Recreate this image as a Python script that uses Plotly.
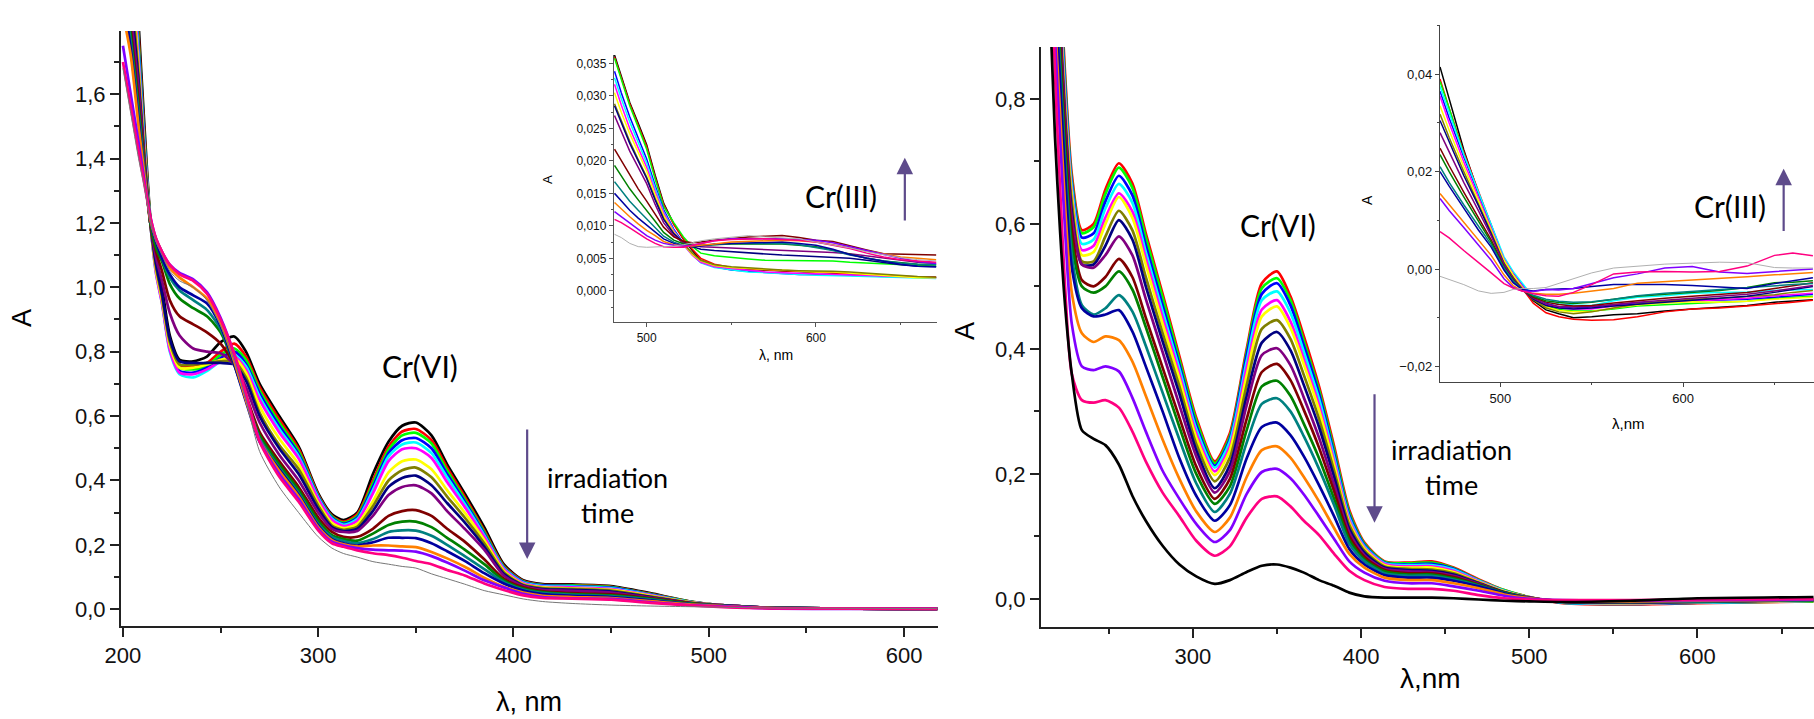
import plotly.graph_objects as go

W, H = 1814, 719
names = ["black", "red", "lime", "blue", "cyan", "magenta", "yellow", "olive", "navy", "purple",
         "wine", "green", "teal", "navy2", "orange", "violet", "pink", "gray"]
colors = {"black": "#000000", "red": "#ff0000", "lime": "#00ff00", "blue": "#0000ff", "cyan": "#00ffff",
          "magenta": "#ff00ff", "yellow": "#ffff00", "olive": "#808000", "navy": "#000080", "purple": "#800080",
          "wine": "#800000", "green": "#008000", "teal": "#008080", "navy2": "#0000a0", "orange": "#ff8000",
          "violet": "#8000ff", "pink": "#ff0080", "gray": "#909090"}
ARROW = "#5e4b8b"

# ---- left main panel
a_wl = [200,204,208,211,214,217,220,224,229,236,243,250,257,263,270,280,290,300,307,313,320,328,336,343,350,358,366,375,385,395,405,415,430,450,470,490,510,530,617]
a_black = [2.6,2.3,1.82,1.5,1.22,1.09,1.0,.85,.775,.77,.785,.83,.847,.80,.70,.60,.505,.36,.295,.277,.30,.42,.52,.57,.58,.54,.45,.36,.255,.14,.09,.078,.077,.072,.05,.025,.011,.005,.001]
a_red = [2.5,2.2,1.78,1.47,1.21,1.07,.97,.83,.76,.755,.765,.80,.825,.785,.69,.59,.498,.355,.29,.272,.295,.40,.505,.552,.56,.525,.44,.35,.245,.135,.088,.076,.075,.07,.048,.024,.011,.005,.001]
a_lime = [2.45,2.15,1.76,1.46,1.21,1.06,.96,.82,.75,.745,.755,.79,.81,.775,.68,.58,.49,.352,.288,.268,.29,.39,.495,.54,.548,.515,.43,.342,.24,.132,.086,.075,.074,.069,.047,.024,.011,.005,.001]
a_blue = [2.4,2.1,1.74,1.45,1.2,1.05,.955,.81,.74,.735,.75,.78,.80,.762,.67,.57,.482,.35,.285,.265,.285,.38,.485,.525,.532,.50,.42,.335,.235,.13,.085,.074,.072,.067,.046,.023,.011,.005,.001]
a_cyan = [2.38,2.08,1.72,1.44,1.2,1.04,.95,.80,.73,.72,.74,.77,.79,.755,.66,.56,.475,.346,.282,.262,.28,.37,.475,.512,.518,.485,.41,.328,.23,.128,.083,.072,.07,.065,.045,.023,.011,.005,.001]
a_magenta = [2.35,2.05,1.7,1.43,1.2,1.04,.95,.805,.735,.73,.745,.77,.785,.745,.65,.55,.468,.342,.278,.258,.275,.36,.46,.497,.50,.47,.395,.318,.225,.125,.081,.07,.068,.063,.044,.022,.011,.005,.001]
a_yellow = [2.3,2.0,1.68,1.42,1.2,1.05,.96,.82,.75,.75,.76,.775,.78,.735,.63,.53,.45,.33,.268,.252,.265,.335,.425,.46,.465,.435,.37,.30,.215,.12,.078,.068,.065,.06,.042,.022,.011,.005,.001]
a_olive = [2.25,1.95,1.66,1.41,1.2,1.06,.97,.83,.76,.76,.765,.77,.77,.72,.61,.51,.435,.322,.26,.247,.257,.32,.40,.432,.44,.41,.35,.285,.205,.115,.076,.066,.063,.058,.04,.021,.011,.005,.001]
a_navy = [2.2,1.9,1.64,1.4,1.2,1.07,.98,.84,.77,.765,.765,.765,.76,.71,.60,.50,.42,.312,.255,.243,.25,.305,.38,.408,.415,.385,.33,.27,.195,.11,.074,.063,.06,.055,.038,.02,.011,.005,.001]
a_purple = [2.1,1.85,1.62,1.39,1.2,1.09,1.02,.92,.85,.81,.80,.795,.76,.69,.58,.48,.40,.30,.25,.24,.243,.29,.355,.38,.385,.36,.305,.25,.185,.105,.072,.06,.057,.052,.036,.02,.011,.005,.001]
a_wine = [2.05,1.8,1.58,1.38,1.2,1.11,1.05,.96,.91,.885,.86,.825,.76,.665,.55,.46,.38,.285,.24,.225,.225,.25,.29,.305,.308,.29,.25,.21,.155,.095,.068,.056,.05,.046,.034,.019,.01,.005,.001]
a_green = [2.0,1.78,1.56,1.37,1.2,1.12,1.08,1.01,.965,.935,.91,.86,.76,.655,.54,.45,.37,.275,.23,.218,.213,.235,.262,.272,.272,.255,.222,.185,.14,.09,.064,.053,.047,.043,.032,.018,.01,.005,.001]
a_teal = [1.95,1.76,1.54,1.36,1.21,1.14,1.09,1.03,.99,.96,.93,.87,.76,.65,.53,.44,.36,.265,.225,.212,.205,.218,.24,.245,.244,.228,.2,.165,.125,.085,.061,.05,.045,.041,.03,.017,.01,.005,.001]
a_navy2 = [1.9,1.74,1.52,1.35,1.21,1.14,1.09,1.04,1.0,.975,.95,.88,.76,.645,.52,.435,.355,.26,.218,.205,.198,.208,.222,.222,.221,.205,.18,.15,.112,.08,.058,.047,.042,.038,.028,.016,.01,.005,.001]
a_orange = [1.85,1.72,1.5,1.35,1.21,1.15,1.11,1.06,1.03,1.0,.965,.89,.77,.65,.525,.43,.35,.255,.215,.202,.195,.198,.198,.195,.193,.178,.158,.132,.098,.07,.052,.042,.038,.035,.025,.015,.009,.004,.001]
a_violet = [1.75,1.6,1.45,1.33,1.22,1.15,1.11,1.07,1.045,1.025,.985,.905,.79,.66,.525,.42,.342,.25,.21,.198,.19,.185,.183,.182,.179,.165,.145,.12,.09,.068,.048,.038,.034,.032,.022,.013,.008,.003,.001]
a_pink = [1.7,1.56,1.42,1.32,1.22,1.15,1.11,1.07,1.04,1.02,.98,.90,.795,.67,.52,.412,.334,.245,.205,.194,.183,.174,.168,.16,.15,.14,.122,.105,.08,.06,.043,.035,.033,.03,.02,.012,.006,.003,.001]
a_gray = [1.68,1.54,1.4,1.31,1.21,1.14,1.1,1.05,1.02,1.0,.96,.88,.77,.65,.49,.38,.30,.225,.19,.173,.162,.148,.14,.133,.128,.11,.095,.078,.058,.045,.032,.024,.018,.013,.01,.008,.006,.004,.002]

# ---- left inset panel
b_wl = [481,485,490,495,500,505,510,516,522,527,532,540,550,560,570,580,590,600,610,620,630,640,650,660,671]
b_black = [.0363,.033,.029,.0258,.0225,.0178,.0135,.0103,.0078,.0062,.0047,.0039,.0035,.0033,.0032,.003,.0029,.0029,.0028,.0026,.0025,.0023,.0022,.0021,.0021]
b_red = [.0360,.0328,.0288,.0255,.0222,.0175,.0133,.0102,.0079,.0064,.005,.0041,.0036,.0034,.0032,.0031,.003,.0029,.0028,.0027,.0025,.0024,.0022,.0021,.0021]
b_lime = [.0358,.0325,.0285,.0252,.0218,.0172,.013,.0105,.0082,.0068,.0058,.0054,.0051,.0049,.0047,.0047,.0046,.0047,.0046,.0044,.0043,.0041,.004,.0039,.0038]
b_blue = [.0338,.0305,.0268,.0235,.0203,.0162,.0125,.0095,.0072,.0056,.0044,.0037,.0032,.003,.0028,.0027,.0025,.0025,.0025,.0024,.0023,.0022,.0021,.002,.002]
b_cyan = [.0328,.0296,.026,.0228,.0197,.0158,.0122,.0093,.007,.0055,.0043,.0036,.0032,.0029,.0028,.0026,.0025,.0024,.0024,.0023,.0022,.0021,.002,.002,.0019]
b_magenta = [.0318,.0286,.025,.022,.019,.0153,.012,.0092,.007,.0055,.0044,.0037,.0034,.0031,.0029,.0028,.0027,.0026,.0026,.0025,.0023,.0022,.0021,.0021,.002]
b_yellow = [.0305,.0275,.0242,.0213,.0184,.0148,.0116,.009,.0071,.0056,.0046,.0039,.0036,.0034,.0033,.0032,.003,.0029,.0029,.0027,.0025,.0023,.0021,.002,.002]
b_olive = [.0288,.0262,.023,.0202,.0175,.0142,.0112,.0088,.0072,.0058,.0047,.004,.0037,.0035,.0034,.0032,.0031,.0031,.003,.0029,.0027,.0025,.0023,.0022,.0021]
b_navy = [.0285,.0258,.0227,.02,.0173,.014,.011,.0088,.0074,.0068,.0064,.0062,.006,.0058,.0056,.0055,.0054,.0053,.0052,.005,.0047,.0043,.004,.0038,.0037]
b_purple = [.027,.0245,.0215,.019,.0165,.0133,.0105,.0085,.0073,.007,.0068,.0067,.0066,.0065,.0064,.0063,.0062,.006,.0059,.0057,.0054,.0051,.0047,.0044,.0042]
b_wine = [.0218,.02,.0178,.0157,.0138,.0118,.0098,.0083,.0076,.0074,.0075,.0078,.0081,.0083,.0084,.0085,.0082,.0078,.0076,.0069,.0063,.0057,.0056,.0056,.0055]
b_green = [.0193,.0177,.0157,.014,.0124,.0107,.009,.0078,.0072,.007,.007,.0071,.0072,.0072,.0072,.0072,.007,.0068,.0063,.0056,.005,.0046,.0043,.0041,.004]
b_teal = [.0168,.0155,.0138,.0124,.0111,.0097,.0084,.0075,.007,.0069,.007,.0071,.0073,.0073,.0073,.0073,.0071,.0067,.0062,.0055,.005,.0046,.0043,.0041,.004]
b_navy2 = [.015,.0138,.0124,.0112,.0101,.009,.008,.0073,.0069,.0068,.0069,.0072,.0073,.0074,.0075,.0075,.0073,.007,.0064,.0056,.005,.0045,.0041,.0038,.0037]
b_orange = [.0136,.0126,.0114,.0103,.0093,.0085,.0076,.0071,.0069,.0069,.007,.0072,.0075,.0076,.0078,.0078,.0077,.0075,.0071,.0066,.0061,.0056,.0052,.005,.0048]
b_violet = [.0122,.0114,.0104,.0095,.0085,.0078,.0073,.007,.0069,.007,.0073,.0077,.008,.008,.0081,.008,.0079,.0078,.0074,.0068,.0061,.0055,.005,.0045,.0042]
b_pink = [.011,.0105,.0097,.0088,.008,.0073,.0068,.0067,.0067,.007,.0073,.0077,.0079,.008,.008,.0079,.0078,.0075,.007,.0065,.0058,.0052,.0048,.0046,.0044]
b_gray = [.0087,.0082,.0073,.0068,.0067,.0067,.0068,.0069,.0071,.0074,.0077,.008,.0083,.0085,.0083,.0082,.008,.0075,.0071,.0066,.006,.0055,.0051,.0048,.0046]

# ---- right main panel
c_wl = [215,218,221,224,228,234,241,248,256,264,272,282,292,302,313,322,332,341,350,358,366,375,384,393,402,414,428,442,455,470,485,500,520,560,600,669]
c_red = [1.5,1.2,1.0,.84,.68,.59,.60,.655,.697,.665,.585,.488,.388,.29,.22,.265,.40,.505,.524,.484,.42,.34,.244,.142,.09,.06,.058,.06,.05,.031,.014,.003,-.007,-.009,-.007,-.004]
c_lime = [1.48,1.18,.98,.83,.67,.585,.595,.648,.69,.658,.578,.482,.382,.285,.217,.26,.395,.497,.513,.478,.412,.334,.238,.138,.088,.059,.057,.058,.049,.03,.014,.003,-.006,-.008,-.006,-.004]
c_blue = [1.46,1.16,.97,.82,.665,.578,.585,.636,.677,.646,.566,.47,.375,.278,.213,.256,.39,.488,.505,.47,.405,.328,.232,.134,.086,.058,.055,.056,.048,.029,.013,.002,-.006,-.008,-.006,-.003]
c_cyan = [1.44,1.14,.96,.81,.66,.568,.575,.625,.664,.634,.555,.46,.368,.272,.21,.252,.38,.478,.492,.458,.395,.32,.226,.13,.084,.057,.054,.054,.047,.029,.013,.002,-.006,-.007,-.006,-.003]
c_magenta = [1.42,1.12,.95,.80,.65,.558,.565,.61,.649,.62,.545,.45,.36,.265,.204,.244,.37,.463,.478,.444,.383,.31,.22,.126,.082,.056,.052,.052,.045,.028,.012,.002,-.005,-.007,-.005,-.003]
c_yellow = [1.4,1.1,.94,.79,.645,.55,.555,.60,.643,.61,.535,.44,.352,.258,.198,.238,.358,.452,.468,.434,.375,.302,.214,.122,.08,.054,.05,.05,.043,.027,.012,.002,-.005,-.007,-.005,-.003]
c_olive = [1.38,1.08,.93,.78,.635,.54,.54,.58,.621,.59,.515,.425,.34,.248,.188,.226,.342,.432,.446,.416,.358,.288,.205,.118,.077,.052,.048,.047,.041,.026,.011,.002,-.005,-.006,-.005,-.002]
c_navy = [1.36,1.06,.92,.77,.62,.535,.535,.565,.606,.575,.50,.412,.328,.238,.177,.214,.325,.41,.427,.398,.342,.275,.195,.112,.074,.05,.046,.045,.039,.025,.011,.002,-.005,-.006,-.005,-.002]
c_purple = [1.34,1.05,.91,.76,.61,.535,.53,.55,.58,.55,.48,.395,.31,.228,.17,.204,.31,.39,.401,.374,.322,.258,.183,.106,.07,.048,.044,.043,.037,.024,.01,.002,-.004,-.005,-.004,-.002]
c_wine = [1.3,1.03,.89,.74,.59,.51,.50,.515,.544,.515,.45,.37,.29,.212,.16,.192,.288,.363,.376,.35,.302,.242,.172,.1,.067,.046,.041,.041,.035,.023,.01,.001,-.004,-.005,-.004,-.002]
c_green = [1.28,1.01,.87,.72,.57,.5,.49,.50,.524,.495,.435,.355,.275,.2,.152,.18,.27,.34,.349,.325,.28,.225,.16,.094,.063,.044,.039,.039,.033,.022,.01,.001,-.004,-.005,-.004,-.002]
c_teal = [1.25,.99,.85,.70,.55,.47,.455,.465,.486,.46,.405,.33,.255,.185,.139,.168,.25,.312,.321,.3,.26,.208,.15,.088,.06,.041,.037,.037,.031,.021,.009,.001,-.003,-.005,-.004,-.002]
c_navy2 = [1.22,.97,.83,.68,.53,.465,.452,.455,.462,.428,.372,.30,.225,.165,.125,.15,.225,.275,.282,.262,.228,.182,.132,.08,.055,.038,.034,.034,.029,.02,.009,.001,-.003,-.004,-.003,-.001]
c_orange = [1.2,.93,.78,.63,.49,.425,.411,.42,.414,.38,.325,.255,.192,.14,.107,.13,.195,.238,.244,.226,.195,.156,.113,.072,.05,.034,.03,.03,.025,.017,.007,.001,-.003,-.004,-.003,-.001]
c_violet = [1.15,.9,.74,.59,.44,.372,.366,.372,.364,.322,.268,.205,.16,.12,.091,.11,.168,.203,.208,.193,.167,.132,.096,.06,.042,.029,.025,.025,.02,.013,.005,.0,-.002,-.003,-.002,-.001]
c_pink = [1.1,.84,.66,.5,.36,.318,.314,.318,.306,.268,.22,.17,.132,.093,.069,.084,.13,.16,.164,.148,.125,.102,.072,.045,.03,.019,.016,.016,.013,.006,.001,-.001,-.002,-.002,-.001,.0]
c_black = [.95,.74,.59,.47,.36,.27,.256,.246,.215,.165,.125,.085,.055,.036,.024,.03,.043,.053,.055,.05,.042,.03,.021,.01,.004,.002,.002,.002,.001,-.001,-.003,-.004,-.005,-.003,.001,.003]

# ---- right inset panel
d_wl = [467,472,480,488,495,502,507,512,518,525,532,540,550,562,575,590,605,620,635,650,660,671]
d_black = [.0415,.035,.0245,.0156,.0085,.0015,-.0015,-.004,-.0065,-.0084,-.0092,-.01,-.0098,-.0094,-.0092,-.0086,-.0082,-.0078,-.0075,-.0068,-.0066,-.0063]
d_red = [.039,.033,.024,.016,.009,.002,-.001,-.004,-.007,-.009,-.0098,-.0103,-.0105,-.0104,-.0098,-.0088,-.0082,-.008,-.0076,-.0072,-.0068,-.0064]
d_lime = [.0385,.033,.0235,.0155,.0085,.0015,-.0012,-.0035,-.006,-.0075,-.0083,-.0086,-.0086,-.0082,-.0076,-.0073,-.007,-.0068,-.0066,-.006,-.0058,-.0056]
d_blue = [.0365,.031,.023,.0155,.009,.002,-.0008,-.0032,-.0056,-.007,-.0078,-.008,-.0078,-.0074,-.007,-.0067,-.0065,-.0064,-.0062,-.0058,-.0055,-.0052]
d_cyan = [.0375,.032,.0235,.0158,.009,.0025,-.0005,-.003,-.0058,-.0068,-.0072,-.0074,-.0075,-.0065,-.0058,-.0055,-.005,-.0048,-.0047,-.0044,-.0043,-.0042]
d_magenta = [.0355,.03,.022,.0148,.0083,.002,-.001,-.0035,-.006,-.0073,-.008,-.0082,-.0082,-.0076,-.0072,-.0069,-.0066,-.0063,-.006,-.0055,-.0052,-.005]
d_yellow = [.0335,.0285,.021,.0142,.008,.0018,-.0012,-.0038,-.0062,-.0078,-.0085,-.0088,-.0087,-.008,-.0074,-.007,-.0067,-.0068,-.0066,-.0062,-.006,-.0058]
d_olive = [.0318,.027,.02,.0135,.0075,.0012,-.0018,-.004,-.0063,-.008,-.0088,-.0092,-.0088,-.008,-.0072,-.0066,-.0062,-.006,-.0057,-.0053,-.0048,-.0044]
d_navy = [.0305,.026,.0192,.013,.0072,.001,-.002,-.0042,-.0062,-.0075,-.008,-.0082,-.008,-.0076,-.0072,-.0068,-.0064,-.006,-.0056,-.0048,-.0042,-.0036]
d_purple = [.028,.024,.0178,.012,.0068,.001,-.002,-.0042,-.006,-.0072,-.0077,-.0078,-.0077,-.0073,-.0068,-.0064,-.006,-.0056,-.0052,-.0045,-.004,-.0034]
d_wine = [.0248,.0212,.0158,.0105,.006,.0005,-.0022,-.0042,-.0058,-.0068,-.0073,-.0076,-.0075,-.007,-.0065,-.006,-.0056,-.0052,-.0048,-.004,-.0034,-.0028]
d_green = [.0235,.02,.0148,.0098,.0055,.0003,-.0024,-.0043,-.0056,-.0065,-.0069,-.0071,-.0068,-.0062,-.0056,-.0052,-.0048,-.0044,-.0038,-.0028,-.0027,-.0024]
d_teal = [.021,.0178,.0132,.0088,.005,.0002,-.0024,-.0042,-.0054,-.0062,-.0066,-.0068,-.0067,-.0062,-.0055,-.005,-.0046,-.0042,-.0038,-.0034,-.0032,-.003]
d_navy2 = [.02,.017,.0125,.008,.0045,-.0002,-.0028,-.0042,-.0045,-.0042,-.0041,-.004,-.0036,-.0032,-.0032,-.0032,-.0034,-.0037,-.004,-.003,-.0025,-.0018]
d_orange = [.0155,.0132,.0095,.006,.0028,-.0012,-.0034,-.0045,-.005,-.0052,-.0052,-.005,-.0045,-.004,-.0029,-.0026,-.0023,-.0019,-.0016,-.0012,-.001,-.0007]
d_violet = [.0145,.012,.0085,.005,.0018,-.002,-.0038,-.0045,-.0046,-.0042,-.0043,-.004,-.003,-.0018,-.001,.0002,.0005,-.0006,-.0009,-.0005,-.0002,0.0]
d_pink = [.0077,.0064,.0038,.0014,-.0008,-.003,-.0039,-.0045,-.0051,-.0055,-.0056,-.0048,-.0032,-.001,-.0006,-.0005,-.0006,-.0005,.0006,.0028,.0033,.0027]
d_gray = [-.0015,-.0022,-.0032,-.0045,-.005,-.0048,-.0042,-.004,-.004,-.0038,-.003,-.002,-.0008,.0002,.0006,.001,.0012,.0014,.0013,.0003,.0002,.0002]

panels = [
    ("x", "y", a_wl, names, "a", 2.7, "spline"),
    ("x2", "y2", b_wl, names, "b", 1.5, "linear"),
    ("x3", "y3", c_wl, names[1:17] + ["black"], "c", 2.7, "spline"),
    ("x4", "y4", d_wl, ["black"] + names[1:], "d", 1.5, "linear"),
]

fig = go.Figure()
for xa, ya, wl, order, prefix, lw, shape in panels:
    for nm in order:
        width = 1 if nm == "gray" else lw
        if nm == "gray":
            color = "#b0b0b0" if prefix != "a" else "#777777"
        else:
            color = colors[nm]
        line = dict(color=color, width=width, shape=shape)
        if shape == "spline":
            line["smoothing"] = 0.7
        fig.add_trace(go.Scatter(x=wl, y=globals()[f"{prefix}_{nm}"], mode="lines", line=line,
                                 xaxis=xa, yaxis=ya, showlegend=False, hoverinfo="skip"))


def hdomain(p0, p1):
    return [p0 / W, min(p1 / W, 1)]


def vdomain(top, bottom):
    return [1 - bottom / H, 1 - top / H]


def axis(domain, rng, dtick, minor, fmt, size, color, lw, ticklen, minorlen, anchor):
    return dict(domain=domain, range=rng, dtick=dtick, tick0=0, tickformat=fmt, showgrid=False, zeroline=False,
                showline=True, linecolor=color, linewidth=lw, ticks="outside", ticklen=ticklen, tickwidth=lw,
                tickcolor=color, tickfont=dict(family="Liberation Sans, Arial, sans-serif", size=size, color="#111111"),
                minor=dict(dtick=minor, ticks="outside", ticklen=minorlen, tickwidth=lw, tickcolor=color, showgrid=False),
                anchor=anchor, automargin=False)


def txt(s, x, y, size, family="Lato, sans-serif", rot=0, color="#000000", weight=400):
    return dict(text=s, xref="paper", yref="paper", x=x / W, y=1 - y / H, showarrow=False, textangle=rot,
                xanchor="center", yanchor="middle", font=dict(family=family, size=size, color=color, weight=weight))


def arrow(xa, ya, x, y0, y1):
    return dict(xref=xa, yref=ya, axref=xa, ayref=ya, x=x, y=y1, ax=x, ay=y0, text="", showarrow=True,
                arrowhead=2, arrowsize=1.5, arrowwidth=2.2, arrowcolor=ARROW)


SANS = "Liberation Sans, Arial, sans-serif"
annotations = [
    txt("Cr(VI)", 420, 366, 30), txt("Cr(III)", 841, 196, 30),
    txt("Cr(VI)", 1278, 225, 30), txt("Cr(III)", 1730, 206, 30),
    txt("irradiation<br>time", 607, 495, 27), txt("irradiation<br>time", 1451, 467, 27),
    txt("A", 22, 318, 27, SANS, -90), txt("λ, nm", 529, 702, 27, SANS),
    txt("A", 548, 180, 13, SANS, -90), txt("λ, nm", 776, 355, 14, SANS),
    txt("A", 965, 331, 27, SANS, -90), txt("λ,nm", 1430, 678, 28, SANS),
    txt("A", 1367, 200, 14, SANS, -90), txt("λ,nm", 1628, 423, 15, SANS),
    arrow("x", "y", 407, 0.563, 0.156),
    arrow("x2", "y2", 652.5, 0.0106, 0.0205),
    arrow("x3", "y3", 408, 0.33, 0.122),
    arrow("x4", "y4", 655, 0.0075, 0.0206),
]

fig.update_layout(
    width=W, height=H, margin=dict(l=0, r=0, t=0, b=0), autosize=False,
    paper_bgcolor="white", plot_bgcolor="rgba(0,0,0,0)", separators=",.", annotations=annotations,
    xaxis=axis(hdomain(121, 938), [199, 617.4], 100, 50, "d", 22, "#222222", 2, 9, 5, "y"),
    yaxis=axis(vdomain(31, 626), [-0.052, 1.796], 0.2, 0.1, ".1f", 22, "#222222", 2, 9, 5, "x"),
    xaxis2=axis(hdomain(614, 937), [480.7, 671.5], 100, 50, "d", 12, "#555555", 1.3, 4, 2, "y2"),
    yaxis2=axis(vdomain(55, 322), [-0.0048, 0.0363], 0.005, 0.0025, ".3f", 12, "#555555", 1.3, 4, 2, "x2"),
    xaxis3=axis(hdomain(1041, 1814), [209.7, 669.3], 100, 50, "d", 22, "#222222", 2, 9, 5, "y3"),
    yaxis3=axis(vdomain(47, 627), [-0.045, 0.883], 0.2, 0.1, ".1f", 22, "#222222", 2, 9, 5, "x3"),
    xaxis4=axis(hdomain(1440, 1814), [467, 671.6], 100, 50, "d", 13, "#444444", 1.3, 4, 2, "y4"),
    yaxis4=axis(vdomain(25, 382), [-0.0232, 0.0501], 0.02, 0.01, ".2f", 13, "#444444", 1.3, 4, 2, "x4"),
)

fig.write_html("out.html", post_script="document.body.style.margin='0';", config={"displayModeBar": False})
